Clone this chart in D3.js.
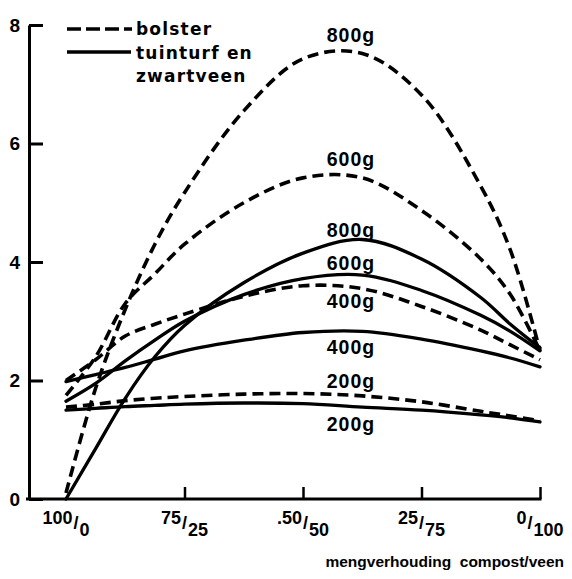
<!DOCTYPE html>
<html>
<head>
<meta charset="utf-8">
<script src="https://cdn.jsdelivr.net/npm/d3@7"></script>
<style>
  body { margin: 0; background: #fff; }
  svg { display: block; }
</style>
</head>
<body>
<div class="chart"></div>
<script>
// mix positions along the x axis (0 = 100/0 ... 4 = 0/100)
const mixes = [0, 0.25, 0.5, 0.75, 1, 1.5, 2, 2.5, 3, 3.5, 3.75, 4];
const mixLabels = [["100", "0"], ["75", "25"], [".50", "50"], ["25", "75"], ["0", "100"]];
const yTicks = [0, 2, 4, 6, 8];

// bolster (dashed)
const bolster800 = [0.1, 1.87, 3.2, 4.3, 5.17, 6.55, 7.43, 7.52, 6.82, 5.28, 4.2, 2.5];
const bolster600 = [1.75, 2.4, 3.3, 3.8, 4.3, 5.0, 5.42, 5.42, 4.87, 4.05, 3.45, 2.5];
const bolster400 = [2.0, 2.35, 2.75, 2.95, 3.12, 3.42, 3.6, 3.55, 3.25, 2.85, 2.6, 2.35];
const bolster200 = [1.55, 1.6, 1.66, 1.7, 1.73, 1.77, 1.78, 1.74, 1.64, 1.48, 1.4, 1.32];
// tuinturf en zwartveen (solid)
const tuin800 = [0.0, 0.85, 1.7, 2.4, 2.93, 3.65, 4.15, 4.38, 4.05, 3.4, 2.95, 2.55];
const tuin600 = [1.65, 1.95, 2.33, 2.68, 3.0, 3.45, 3.72, 3.78, 3.52, 3.1, 2.83, 2.5];
const tuin400 = [1.98, 2.1, 2.22, 2.36, 2.5, 2.68, 2.81, 2.83, 2.7, 2.5, 2.38, 2.23];
const tuin200 = [1.5, 1.53, 1.56, 1.58, 1.6, 1.62, 1.61, 1.55, 1.5, 1.42, 1.37, 1.3];

const seriesNames = ["800g", "600g", "400g", "200g"];

let width = 572, height = 579
let axisX = 29

let svg = d3.select("div.chart").append("svg")
  .attr("width", width)
  .attr("height", height)

let x = d3.scaleLinear().domain([0, 4]).range([66, 540])
let y = d3.scaleLinear().domain([0, 8]).range([499, 25])

const numFont = "'Liberation Sans', Arial, sans-serif"

// y axis, ticks pointing inward
let yAxis = svg.append("g")
  .attr("transform", `translate(${axisX},0)`)
  .call(d3.axisLeft(y).tickValues(yTicks).tickSizeInner(-14).tickSizeOuter(0).tickPadding(9))
yAxis.select(".domain").attr("stroke-width", 3)
yAxis.selectAll(".tick line").attr("stroke-width", 3)
yAxis.selectAll(".tick text")
  .attr("font-family", numFont).attr("font-weight", "bold").attr("font-size", 19)
  .attr("fill", "#000")

// x axis
let xAxis = svg.append("g")
  .attr("transform", `translate(0,${y(0)})`)
  .call(d3.axisBottom(x).tickValues([1, 2, 3, 4]).tickSizeInner(-12).tickSizeOuter(0).tickFormat(""))
xAxis.select(".domain").remove()
xAxis.selectAll(".tick line").attr("stroke-width", 2.5)
svg.append("line")
  .attr("x1", axisX - 3).attr("x2", x(4) + 1.5)
  .attr("y1", y(0)).attr("y2", y(0))
  .attr("stroke", "#000").attr("stroke-width", 3)

// fraction-style tick labels
let xl = svg.append("g").selectAll("text")
  .data(mixLabels)
  .enter()
  .append("text")
  .attr("x", (d, i) => x(i))
  .attr("y", 524)
  .attr("text-anchor", "middle")
  .attr("font-family", numFont).attr("font-weight", "bold").attr("font-size", 18)
xl.append("tspan").text(d => d[0])
xl.append("tspan").attr("dy", 5).attr("dx", 1).text("/")
xl.append("tspan").attr("dy", 7).attr("dx", 1).text(d => d[1])

svg.append("text")
  .attr("x", 564).attr("y", 567)
  .attr("text-anchor", "end")
  .attr("font-family", numFont).attr("font-weight", "bold").attr("font-size", 15.5)
  .style("white-space", "pre")
  .text("mengverhouding  compost/veen")

// curves
let line = d3.line()
  .x((d, i) => x(mixes[i]))
  .y(d => y(d))
  .curve(d3.curveCatmullRom.alpha(0.5))

const dashedSeries = [bolster800, bolster600, bolster400, bolster200]
const solidSeries = [tuin800, tuin600, tuin400, tuin200]

svg.append("g").selectAll("path")
  .data(solidSeries)
  .enter()
  .append("path")
  .attr("d", line)
  .attr("fill", "none")
  .attr("stroke", "#000")
  .attr("stroke-width", 3.3)
  .attr("stroke-linecap", "round")

svg.append("g").selectAll("path")
  .data(dashedSeries)
  .enter()
  .append("path")
  .attr("d", line)
  .attr("fill", "none")
  .attr("stroke", "#000")
  .attr("stroke-width", 3.6)
  .attr("stroke-dasharray", "11,6")

// curve labels: [name, value the baseline sits at]
const curveLabels = [
  [seriesNames[0], 7.71], [seriesNames[1], 5.62], [seriesNames[0], 4.43], [seriesNames[1], 3.86],
  [seriesNames[2], 3.23], [seriesNames[2], 2.45], [seriesNames[3], 1.88], [seriesNames[3], 1.15]
]
svg.append("g").selectAll("text")
  .data(curveLabels)
  .enter()
  .append("text")
  .attr("x", x(2.2))
  .attr("y", d => y(d[1]))
  .attr("font-family", numFont).attr("font-weight", "bold").attr("font-size", 19.5)
  .attr("letter-spacing", 1)
  .text(d => d[0])

// legend
let legend = svg.append("g")
legend.append("line")
  .attr("x1", 67).attr("x2", 132).attr("y1", 29).attr("y2", 29)
  .attr("stroke", "#000").attr("stroke-width", 3.6).attr("stroke-dasharray", "14,5")
legend.append("line")
  .attr("x1", 67).attr("x2", 131).attr("y1", 52).attr("y2", 52)
  .attr("stroke", "#000").attr("stroke-width", 3.3)
const legendText = [["bolster", 35], ["tuinturf en", 59], ["zwartveen", 82]]
legend.selectAll("text")
  .data(legendText)
  .enter()
  .append("text")
  .attr("x", 136)
  .attr("y", d => d[1])
  .attr("font-family", "'DejaVu Sans', sans-serif").attr("font-weight", "bold").attr("font-size", 17)
  .attr("letter-spacing", 1.2)
  .text(d => d[0])
</script>
</body>
</html>
